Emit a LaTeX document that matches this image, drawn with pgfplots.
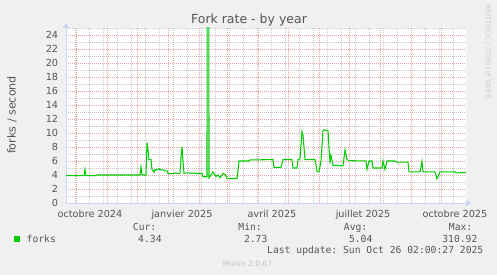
\documentclass[border=0pt]{standalone}
\usepackage{fontspec}
\setmainfont{DejaVu Sans}
\setmonofont{DejaVu Sans Mono}
\usepackage{pgfplots}
\pgfplotsset{compat=1.18}
\usetikzlibrary{arrows.meta}
\definecolor{bg}{HTML}{F0F0F0}
\definecolor{txt}{HTML}{555555}
\definecolor{mgrid}{HTML}{E8A4A4}
\definecolor{ngrid}{HTML}{C8C8C8}
\definecolor{axcol}{HTML}{CCD4F4}
\definecolor{forkgreen}{HTML}{00CC00}
\definecolor{wm}{HTML}{C4C4C4}
\begin{document}
\begin{tikzpicture}[x=1pt,y=1pt]
\useasboundingbox (0,0) rectangle (497,275);
\fill[bg] (0,0) rectangle (497,275);
\begin{axis}[at={(66pt,72pt)}, anchor=south west, scale only axis,
  width=400pt, height=175pt,
  xmin=0, xmax=400, ymin=0, ymax=25,
  axis background/.style={fill=white},
  axis lines=left,
  axis line style={draw=axcol, line width=0.8pt},
  every outer x axis line/.append style={-{Triangle[length=5pt,width=6pt]}, shorten >=-5pt},
  every outer y axis line/.append style={-{Triangle[length=5pt,width=6pt]}, shorten >=-5pt},
  xtick={24,116,206,297,389},
  xticklabels={octobre 2024, janvier 2025, avril 2025, juillet 2025, octobre 2025},
  ytick={0,2,...,24},
  minor xtick={9,23,...,387},
  minor ytick={1,3,...,25},
  extra x ticks={10,41,71,102,133,161,192,222,253,283,314,345,375},
  extra x tick labels={},
  extra x tick style={grid=major},
  xmajorgrids=false, ymajorgrids=true, xminorgrids=true, yminorgrids=true,
  major grid style={mgrid, line width=0.6pt, dash pattern=on 1pt off 1pt},
  minor grid style={ngrid, line width=0.6pt, dash pattern=on 1pt off 1pt},
  tick style={draw=none},
  /pgf/number format/assume math mode=true,
  tick label style={font=\fontsize{9.7}{10}\selectfont, text=txt},
  yticklabel style={anchor=east, inner sep=0pt, xshift=-5.5pt},
  xticklabel style={anchor=base, inner sep=0pt, yshift=-12pt},
]
\addplot[forkgreen, line width=1.05pt, mark=none] coordinates {
(0,3.9) (18,3.9) (19,4.8) (20,3.9) (30,3.9) (31,4.0) (74,4.0) (75,5.15) (76,4.0) (80,4.0)
(81,8.6) (82,7.6) (83,6.2) (85,6.2) (86,4.8) (88,4.4) (89,4.8) (91,4.7) (93,4.9) (95,4.7)
(97,4.75) (99,4.6) (101,4.6) (102,4.2) (108,4.2) (109,4.3) (111,4.25) (113,4.2) (114,4.3)
(115,6.5) (116,8.0) (117,6.0) (118,4.25) (122,4.3) (126,4.25) (128,4.3) (131,4.2) (133,4.25)
(136,4.2) (137,3.75) (141,3.75) (142,310.92) (143,3.6) (145,4.0) (147,4.45) (149,4.0)
(150,3.8) (152,4.0) (154,3.6) (156,4.0) (157,4.2) (159,4.1) (161,3.5) (171,3.5) (173,6.0)
(183,6.0) (184,6.15) (207,6.2) (208,5.1) (215,5.1) (217,6.2) (226,6.2) (227,5.0) (231,5.0)
(232,6.2) (234,6.3) (236,10.2) (237,9.7) (239,6.2) (249,6.2) (250,5.5) (251,4.5) (253,4.45)
(255,6.0) (257,10.3) (258,10.45) (262,10.3) (264,5.7) (265,6.8) (267,5.4) (277,5.3) (279,7.6)
(281,6.2) (283,6.05) (300,6.0) (301,4.8) (303,6.0) (306,6.0) (307,5.0) (316,5.0) (317,6.0)
(319,4.8) (321,6.0) (329,6.0) (330,5.85) (342,5.85) (343,4.45) (354,4.45) (356,5.95)
(357,4.45) (369,4.45) (371,3.45) (374,4.45) (389,4.45) (390,4.3) (400,4.34)
};
\end{axis}
\node[anchor=base, font=\fontsize{12.5}{14}\selectfont, text=txt] at (249,251) {Fork rate - by year};
\node[rotate=90, anchor=base, font=\fontsize{11.1}{12}\selectfont, text=txt] at (15.5,160) {forks / second};
\fill[forkgreen] (14,33) rectangle (20,39);
\begin{scope}[every node/.style={font=\ttfamily\fontsize{9.7}{10}\selectfont, text=txt, inner sep=0pt}]
\node[anchor=base west] at (26.5,32.5) {forks};
\node[anchor=base east] at (156.5,44) {Cur:};
\node[anchor=base east] at (161.8,32.5) {4.34};
\node[anchor=base east] at (262,44) {Min:};
\node[anchor=base east] at (267.6,32.5) {2.73};
\node[anchor=base east] at (367.5,44) {Avg:};
\node[anchor=base east] at (372.6,32.5) {5.04};
\node[anchor=base east] at (472.5,44) {Max:};
\node[anchor=base east] at (477.6,32.5) {310.92};
\node[anchor=base east] at (483.5,21.7) {Last update: Sun Oct 26 02:00:27 2025};
\end{scope}
\node[anchor=base, inner sep=0pt, font=\fontsize{7.5}{8}\selectfont, text=wm] at (247.5,8) {Munin 2.0.67};
\node[rotate=-90, anchor=base, inner sep=0pt, font=\fontsize{7.4}{8}\selectfont, text=wm!80] at (485.5,223) {RRDTOOL / TOBI OETIKER};
\end{tikzpicture}
\end{document}
